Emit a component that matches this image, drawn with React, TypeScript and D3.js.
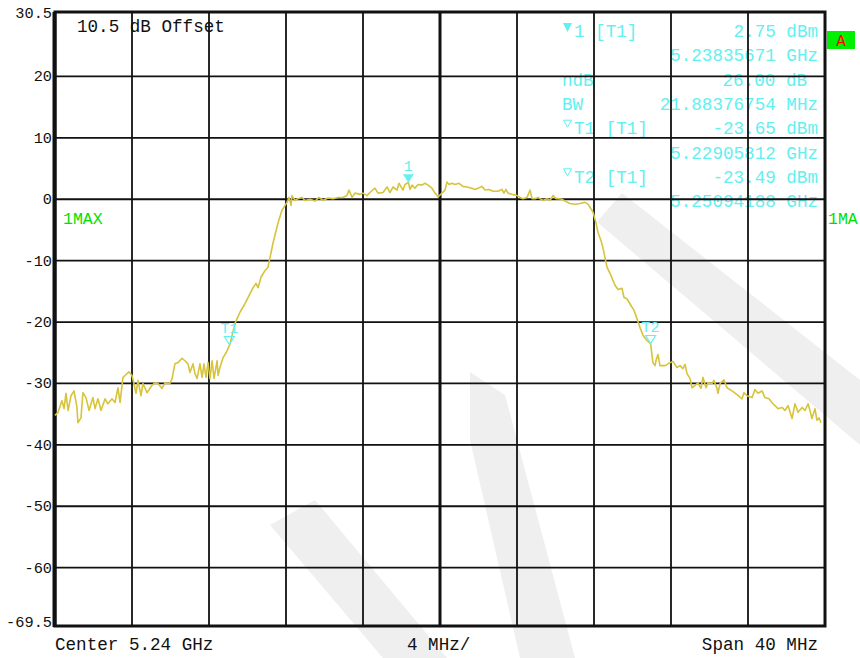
import React from 'react';
import * as d3 from 'd3';

const width = 860,
  height = 658;

const CENTER_GHZ = 5.24;
const SPAN_MHZ = 40;

// y axis labels (dBm)
const yTickValues = [30.5, 20, 10, 0, -10, -20, -30, -40, -50, -60, -69.5];
const yGridValues = [20, 10, 0, -10, -20, -30, -40, -50, -60];
const xGridValues = [-16, -12, -8, -4, 0, 4, 8, 12, 16];

// trace 1 (max hold), offset from center in MHz and level in dBm
const traceOffsetMHz = [
  -20.0, -19.84, -19.64, -19.53, -19.43, -19.32, -19.17, -19.01, -18.86, -18.81,
  -18.65, -18.55, -18.39, -18.23, -18.03, -17.92, -17.77, -17.61, -17.4, -17.25,
  -17.04, -16.88, -16.73, -16.62, -16.47, -16.36, -16.16, -16.0, -15.9, -15.79,
  -15.69, -15.53, -15.43, -15.22, -14.96, -14.81, -14.65, -14.44, -14.29, -14.03,
  -13.92, -13.77, -13.61, -13.4, -13.25, -13.09, -12.99, -12.83, -12.73, -12.62,
  -12.47, -12.36, -12.26, -12.16, -12.05, -11.95, -11.84, -11.74, -11.58, -11.53,
  -11.43, -11.27, -11.11, -10.91, -10.65, -10.39, -10.13, -9.92, -9.71, -9.56,
  -9.45, -9.3, -9.09, -8.94, -8.83, -8.68, -8.42, -8.21, -7.95, -7.84,
  -7.74, -7.69, -7.53, -7.38, -7.17, -7.01, -6.75, -6.49, -6.29, -6.08,
  -5.82, -5.56, -5.3, -5.04, -4.83, -4.73, -4.57, -4.42, -4.16, -4.0,
  -3.79, -3.64, -3.38, -3.22, -2.96, -2.75, -2.6, -2.44, -2.23, -2.13,
  -1.92, -1.82, -1.64, -1.56, -1.45, -1.3, -1.14, -0.94, -0.78, -0.62,
  -0.42, -0.26, -0.1, 0.1, 0.26, 0.36, 0.47, 0.62, 0.78, 0.99,
  1.19, 1.4, 1.66, 1.82, 1.97, 2.18, 2.34, 2.55, 2.75, 3.01,
  3.22, 3.32, 3.43, 3.53, 3.74, 4.0, 4.16, 4.31, 4.52, 4.68,
  4.78, 4.94, 5.09, 5.19, 5.35, 5.56, 5.71, 5.87, 6.03, 6.13,
  6.34, 6.49, 6.75, 7.01, 7.27, 7.53, 7.69, 7.79, 7.95, 8.1,
  8.21, 8.36, 8.47, 8.57, 8.68, 8.88, 9.09, 9.25, 9.45, 9.56,
  9.71, 9.92, 10.08, 10.23, 10.39, 10.55, 10.75, 10.94, 11.06, 11.17,
  11.22, 11.32, 11.43, 11.69, 11.84, 12.1, 12.31, 12.47, 12.62, 12.73,
  12.83, 12.99, 13.09, 13.25, 13.4, 13.56, 13.66, 13.82, 13.92, 14.13,
  14.23, 14.39, 14.44, 14.55, 14.75, 14.91, 15.17, 15.43, 15.69, 15.79,
  15.95, 16.21, 16.36, 16.52, 16.73, 16.88, 17.09, 17.3, 17.56, 17.77,
  17.92, 18.08, 18.29, 18.44, 18.6, 18.81, 18.96, 19.12, 19.22, 19.32,
  19.48, 19.58, 19.69, 19.79,
];
const traceLevelDbm = [
  -35.2, -34.7, -32.8, -34.1, -31.6, -34.4, -32.0, -31.2, -33.9, -36.4,
  -35.6, -31.5, -32.3, -34.4, -32.3, -34.1, -32.5, -34.4, -32.5, -33.3,
  -32.5, -33.1, -30.7, -33.1, -29.0, -28.7, -28.1, -28.7, -30.0, -31.6,
  -29.5, -32.0, -30.0, -31.5, -30.3, -29.9, -30.0, -30.8, -29.9, -30.0,
  -29.2, -26.8, -26.6, -25.9, -26.3, -26.8, -28.2, -26.8, -28.4, -29.2,
  -26.8, -29.0, -26.8, -29.0, -26.6, -29.2, -26.3, -29.2, -26.3, -28.7,
  -27.4, -25.8, -25.0, -23.6, -20.2, -18.4, -17.0, -15.7, -14.4, -13.7,
  -14.4, -12.7, -11.6, -11.1, -9.5, -7.2, -3.9, -1.8, -0.5, 0.3,
  -1.0, 0.6, -0.2, 0.1, 0.3, -0.2, 0.0, -0.3, 0.3, -0.2,
  0.2, 0.1, 0.3, 0.3, 0.6, 1.5, 0.3, 1.0, 0.8, 1.0,
  0.6, 1.1, 1.8, 1.0, 1.1, 2.0, 1.1, 2.0, 1.5, 2.6,
  1.5, 2.4, 2.75, 1.6, 2.3, 1.8, 2.4, 2.3, 2.6, 2.3,
  1.8, 1.0, 0.4, 1.0, 1.5, 2.8, 2.4, 2.6, 2.4, 2.6,
  2.1, 2.0, 1.8, 1.6, 1.8, 2.1, 1.5, 1.6, 1.3, 1.3,
  1.6, 1.0, 1.6, 1.0, 0.8, 0.6, 0.3, 0.1, 0.3, 1.5,
  0.1, 0.1, 0.3, 0.1, -0.2, 0.1, -0.2, 0.6, 0.1, 0.1,
  0.0, -0.3, -0.7, -0.8, -0.7, -0.5, -0.8, -1.3, -2.1, -3.8,
  -5.4, -6.7, -8.0, -9.5, -11.1, -12.4, -14.0, -14.7, -14.5, -16.0,
  -16.2, -17.3, -18.1, -19.4, -20.9, -22.2, -23.0, -23.5, -26.6, -27.1,
  -26.3, -25.3, -27.1, -27.1, -26.8, -26.4, -27.4, -27.1, -27.6, -26.9,
  -28.4, -29.2, -30.7, -30.3, -29.9, -30.8, -29.0, -30.7, -29.9, -30.0,
  -29.5, -30.8, -31.6, -30.0, -29.4, -30.7, -31.2, -31.8, -32.5, -31.5,
  -32.0, -32.3, -31.0, -31.6, -31.2, -32.3, -32.5, -33.3, -34.1, -33.9,
  -34.4, -33.6, -35.7, -33.3, -34.7, -33.9, -34.4, -33.3, -34.4, -35.7,
  -34.1, -36.0, -35.6, -36.4,
];

// markers: name, offset MHz, level dBm
const markerNames = ['1', 'T1', 'T2'];
const markerOffsetMHz = [-1.643, -10.94, 10.94];
const markerLevelDbm = [2.75, -23.65, -23.49];

// marker readout block
const readoutLeft = ['1 [T1]', '', 'ndB', 'BW', 'T1 [T1]', '', 'T2 [T1]', ''];
const readoutRight = [
  '2.75 dBm',
  '5.23835671 GHz',
  '26.00 dB',
  '21.88376754 MHz',
  '-23.65 dBm',
  '5.22905812 GHz',
  '-23.49 dBm',
  '5.25094188 GHz',
];

const MONO = '"Liberation Mono", "DejaVu Sans Mono", monospace';
const CYAN = '#62f0f0';
const TRACE = '#d6c43c';

export default function App() {
  const x = d3.scaleLinear().domain([-SPAN_MHZ / 2, SPAN_MHZ / 2]).range([55, 825]);
  const y = d3.scaleLinear().domain([-69.5, 30.5]).range([626, 12]);

  const points: [number, number][] = traceOffsetMHz.map((f, i) => [f, traceLevelDbm[i]]);
  const line = d3
    .line<[number, number]>()
    .x((d) => x(d[0]))
    .y((d) => y(d[1]));

  const [x0, x1] = x.range();
  const [yb, yt] = y.range();

  return (
    <svg
      width={width}
      height={height}
      style={{ position: 'absolute', left: 0, top: 0, background: '#fff' }}
      fontFamily={MONO}
    >
      {/* watermark */}
      <g fill="#efefef">
        <polygon points="622,193 860,380 860,445 597,222" />
        <polygon points="270,525 315,500 447,658 383,658" />
        <polygon points="470,372 505,395 575,658 520,658 470,440" />
      </g>

      {/* offset note */}
      <text x={77} y={32} fontSize={17.6} fill="#111">
        10.5 dB Offset
      </text>

      {/* marker readout */}
      {readoutLeft.map((t, i) =>
        t ? (
          <text
            key={'l' + i}
            x={i === 0 || i === 4 || i === 6 ? 574 : 562}
            y={37 + i * 24.3}
            fontSize={17.6}
            fill={CYAN}
          >
            {t}
          </text>
        ) : null
      )}
      {readoutRight.map((t, i) => (
        <text
          key={'r' + i}
          x={i === 2 ? 807 : 818}
          y={37 + i * 24.3}
          fontSize={17.6}
          fill={CYAN}
          textAnchor="end"
        >
          {t}
        </text>
      ))}
      <path d="M563,23 L572,23 L567.5,32 Z" fill={CYAN} />
      {[4, 6].map((i) => (
        <path
          key={'tri' + i}
          d={`M563.5,${37 + i * 24.3 - 14} L571.5,${37 + i * 24.3 - 14} L567.5,${37 + i * 24.3 - 7} Z`}
          fill="none"
          stroke={CYAN}
          strokeWidth={1}
        />
      ))}

      {/* grid */}
      <g stroke="#111" strokeWidth={1.8}>
        {xGridValues.map((v) => (
          <line key={'gx' + v} x1={x(v)} x2={x(v)} y1={yt} y2={yb} strokeWidth={v === 0 ? 3 : 1.8} />
        ))}
        {yGridValues.map((v) => (
          <line key={'gy' + v} x1={x0} x2={x1} y1={y(v)} y2={y(v)} />
        ))}
      </g>
      <rect x={x0} y={yt} width={x1 - x0} height={yb - yt} fill="none" stroke="#111" strokeWidth={3} />
      <line x1={x0 - 0.5} x2={x0 - 0.5} y1={yt} y2={yb + 1} stroke="#111" strokeWidth={4} />

      {/* y labels */}
      {yTickValues.map((v) => (
        <text
          key={'yl' + v}
          x={52}
          y={v === 30.5 ? y(v) + 2 : v === -69.5 ? y(v) - 3 : y(v) + 1}
          fontSize={15.3}
          fill="#111"
          textAnchor="end"
          dominantBaseline="central"
        >
          {v === 0 ? '0' : String(v)}
        </text>
      ))}

      {/* trace */}
      <path d={line(points) || ''} fill="none" stroke={TRACE} strokeWidth={1.6} strokeLinejoin="round" />

      {/* markers on trace */}
      {markerNames.map((name, i) => {
        const mx = x(markerOffsetMHz[i]);
        const my = y(markerLevelDbm[i]);
        const filled = name === '1';
        return (
          <g key={'m' + name}>
            <path
              d={`M${mx - 5},${my - 8} L${mx + 5},${my - 8} L${mx},${my} Z`}
              fill={filled ? CYAN : 'none'}
              stroke={CYAN}
              strokeWidth={filled ? 0.5 : 1.2}
            />
            <text x={mx} y={my - 11} fontSize={15} fill={CYAN} textAnchor="middle">
              {name}
            </text>
          </g>
        );
      })}

      {/* trace labels */}
      <text x={63} y={224} fontSize={16.5} fill="#00e000">
        1MAX
      </text>
      <text x={828} y={224} fontSize={16.5} fill="#00e000">
        1MA
      </text>
      <rect x={827} y={31} width={28} height={18} fill="#00f000" />
      <text x={841} y={46} fontSize={16} fill="#ff0000" textAnchor="middle">
        A
      </text>

      {/* bottom annotations */}
      <text x={55} y={650} fontSize={17.6} fill="#111">
        {`Center ${CENTER_GHZ} GHz`}
      </text>
      <text x={407} y={650} fontSize={17.6} fill="#111">
        {`${SPAN_MHZ / 10} MHz/`}
      </text>
      <text x={818} y={650} fontSize={17.6} fill="#111" textAnchor="end">
        {`Span ${SPAN_MHZ} MHz`}
      </text>
    </svg>
  );
}
